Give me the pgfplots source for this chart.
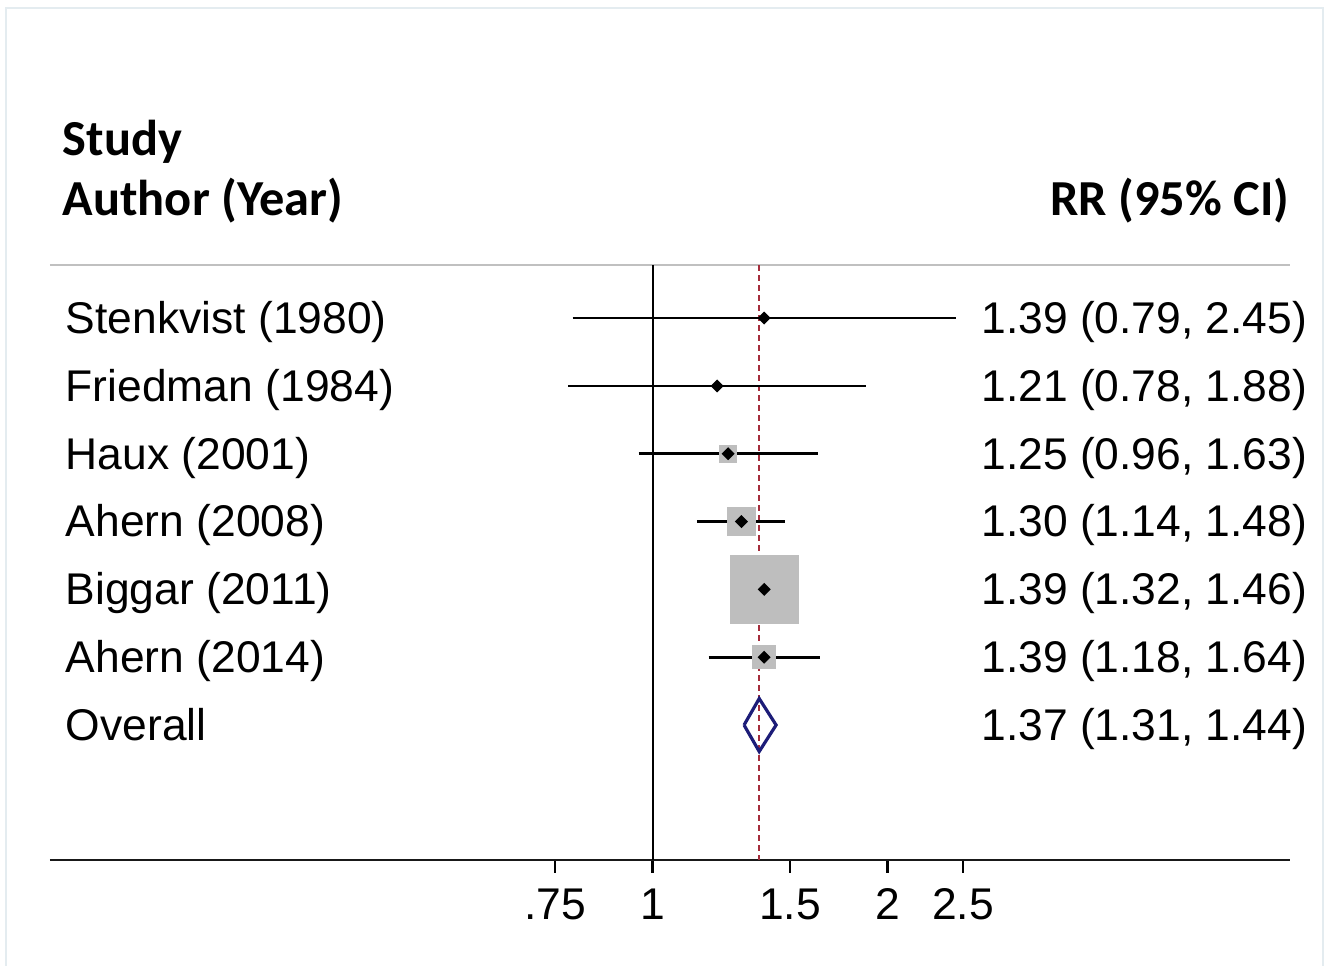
\documentclass[border=0pt]{standalone}
\usepackage{fontspec}
\setmainfont{Liberation Sans}
\newfontfamily\hdr{Carlito}
\usepackage{pgfplots}
\usepackage{pgfplotstable}
\pgfplotsset{compat=1.18}
\definecolor{boxgray}{RGB}{190,190,190}
\definecolor{refred}{RGB}{165,45,60}
\definecolor{dnavy}{RGB}{28,28,120}
\definecolor{framec}{RGB}{228,236,240}
\definecolor{topgray}{RGB}{192,192,192}

\pgfplotstableread{
y rr lo hi w
-1 1.39 0.79 2.45 0.6
-2 1.21 0.78 1.88 0.6
-3 1.25 0.96 1.63 2.0
-4 1.30 1.14 1.48 3.5
-5 1.39 1.32 1.46 8.4
-6 1.39 1.18 1.64 2.75
}\studies

\newcommand\body{\fontsize{11.1}{13}\selectfont}
\newcommand\hfnt{\hdr\bfseries\fontsize{12.6}{15}\selectfont}

\begin{document}
\begin{tikzpicture}
\begin{scope}[x=0.25pt,y=-0.25pt]
\useasboundingbox (0,0) rectangle (1331,966);
\draw[framec, line width=0.5pt] (6,970) -- (6,8) -- (1323,8) -- (1323,970);
\end{scope}
\begin{axis}[
 at={(12.5pt,-215pt)}, anchor=south west, scale only axis, width=310pt, height=148.75pt,
 xmode=log, xmin=0.1691, xmax=6.557, ymin=-8.99, ymax=-0.218,
 axis x line=bottom, axis y line=none,
 x axis line style={-, line width=0.65pt, black!90},
 xtick={0.75,1,1.5,2,2.5}, xticklabels={.75,1,1.5,2,2.5}, minor xtick={},
 tick align=outside, major tick length=3.2pt, tick style={black, line width=0.55pt},
 xticklabel style={font=\body, yshift=-0.5pt},
 clip=false,
]
% top gray line
\addplot[topgray, line width=0.55pt] coordinates {(0.1691,-0.218) (6.557,-0.218)};
% null line
\addplot[black, line width=0.5pt] coordinates {(1,-0.218) (1,-8.99)};
% overall reference line
\addplot[refred, line width=0.45pt, dash pattern=on 1.4pt off 1.1pt] coordinates {(1.37,-0.218) (1.37,-8.99)};
% weight boxes
\addplot[scatter, only marks, mark=square*,
  scatter/use mapped color={draw=boxgray, fill=boxgray},
  visualization depends on={\thisrow{w} \as \perpointmarksize},
  scatter/@pre marker code/.append style={/tikz/mark size=\perpointmarksize, /tikz/line width=0pt}]
  table[x=rr, y=y] \studies;
% confidence intervals
\addplot[black, line width=0.65pt] coordinates {(0.79,-1) (2.45,-1)};
\addplot[black, line width=0.65pt] coordinates {(0.78,-2) (1.88,-2)};
\addplot[black, line width=0.65pt] coordinates {(0.96,-3) (1.63,-3)};
\addplot[black, line width=0.65pt] coordinates {(1.14,-4) (1.48,-4)};
\addplot[black, line width=0.65pt] coordinates {(1.32,-5) (1.46,-5)};
\addplot[black, line width=0.65pt] coordinates {(1.18,-6) (1.64,-6)};
% point estimates
\addplot[only marks, mark=square*, mark size=0.95pt, mark options={rotate=45, black, fill=black}] table[x=rr, y=y] \studies;
% overall diamond
\addplot[dnavy, line width=0.8pt, line join=miter] coordinates {(1.31,-7) (1.37,-6.61) (1.44,-7) (1.37,-7.39) (1.31,-7)};
\end{axis}

\begin{scope}[x=0.25pt,y=-0.25pt]
\node[anchor=base west, inner sep=0pt, font=\hfnt] at (62,155) {Study};
\node[anchor=base west, inner sep=0pt, font=\hfnt] at (62,215) {Author (Year)};
\node[anchor=base east, inner sep=0pt, font=\hfnt] at (1290,215) {RR (95\% CI)};
\begin{scope}[every node/.style={inner sep=0pt, font=\body}]
\node[anchor=base west] at (65,333) {Stenkvist (1980)};
\node[anchor=base west] at (65,401) {Friedman (1984)};
\node[anchor=base west] at (65,469) {Haux (2001)};
\node[anchor=base west] at (65,536) {Ahern (2008)};
\node[anchor=base west] at (65,604) {Biggar (2011)};
\node[anchor=base west] at (65,672) {Ahern (2014)};
\node[anchor=base west] at (65,740) {Overall};
\node[anchor=base east] at (1308,333) {1.39 (0.79, 2.45)};
\node[anchor=base east] at (1308,401) {1.21 (0.78, 1.88)};
\node[anchor=base east] at (1308,469) {1.25 (0.96, 1.63)};
\node[anchor=base east] at (1308,536) {1.30 (1.14, 1.48)};
\node[anchor=base east] at (1308,604) {1.39 (1.32, 1.46)};
\node[anchor=base east] at (1308,672) {1.39 (1.18, 1.64)};
\node[anchor=base east] at (1308,740) {1.37 (1.31, 1.44)};
\end{scope}
\end{scope}
\end{tikzpicture}
\end{document}
